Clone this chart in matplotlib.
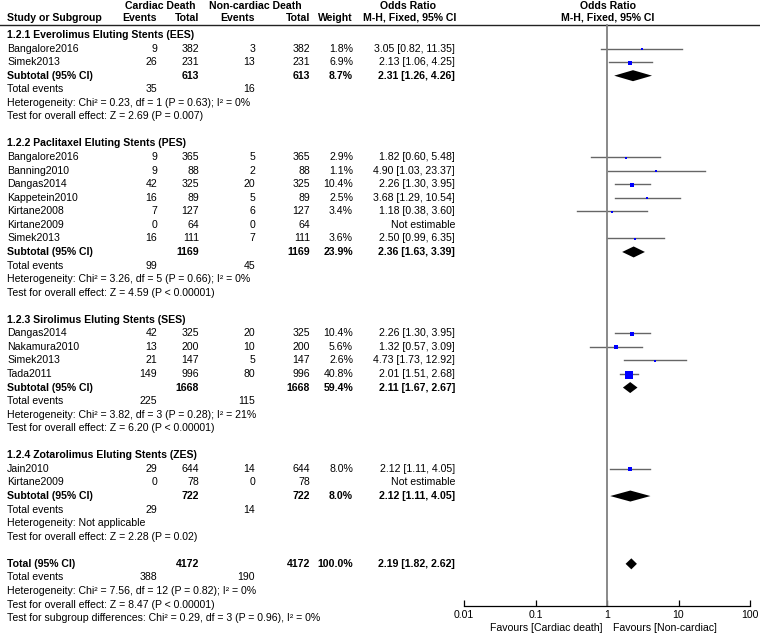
import matplotlib
matplotlib.use("Agg")
import matplotlib.pyplot as plt
import numpy as np

plt.rcParams['font.family'] = ['Liberation Sans', 'DejaVu Sans']
FS = 7.55

# subgroups
group_names = ["1.2.1 Everolimus Eluting Stents (EES)",
               "1.2.2 Paclitaxel Eluting Stents (PES)",
               "1.2.3 Sirolimus Eluting Stents (SES)",
               "1.2.4 Zotarolimus Eluting Stents (ZES)"]
group_studies = [["Bangalore2016", "Simek2013"],
                 ["Bangalore2016", "Banning2010", "Dangas2014", "Kappetein2010",
                  "Kirtane2008", "Kirtane2009", "Simek2013"],
                 ["Dangas2014", "Nakamura2010", "Simek2013", "Tada2011"],
                 ["Jain2010", "Kirtane2009"]]
cd_events = [[9, 26], [9, 9, 42, 16, 7, 0, 16], [42, 13, 21, 149], [29, 0]]
cd_total = [[382, 231], [365, 88, 325, 89, 127, 64, 111], [325, 200, 147, 996], [644, 78]]
nc_events = [[3, 13], [5, 2, 20, 5, 6, 0, 7], [20, 10, 5, 80], [14, 0]]
nc_total = [[382, 231], [365, 88, 325, 89, 127, 64, 111], [325, 200, 147, 996], [644, 78]]
weights = [[1.8, 6.9], [2.9, 1.1, 10.4, 2.5, 3.4, None, 3.6], [10.4, 5.6, 2.6, 40.8], [8.0, None]]
odds = [[3.05, 2.13], [1.82, 4.90, 2.26, 3.68, 1.18, None, 2.50], [2.26, 1.32, 4.73, 2.01], [2.12, None]]
ci_low = [[0.82, 1.06], [0.60, 1.03, 1.30, 1.29, 0.38, None, 0.99], [1.30, 0.57, 1.73, 1.51], [1.11, None]]
ci_high = [[11.35, 4.25], [5.48, 23.37, 3.95, 10.54, 3.60, None, 6.35], [3.95, 3.09, 12.92, 2.68], [4.05, None]]

sub_cd_total = [613, 1169, 1668, 722]
sub_nc_total = [613, 1169, 1668, 722]
sub_weight = [8.7, 23.9, 59.4, 8.0]
sub_or = [2.31, 2.36, 2.11, 2.12]
sub_low = [1.26, 1.63, 1.67, 1.11]
sub_high = [4.26, 3.39, 2.67, 4.05]
sub_cd_events = [35, 99, 225, 29]
sub_nc_events = [16, 45, 115, 14]
sub_het = ["Heterogeneity: Chi² = 0.23, df = 1 (P = 0.63); I² = 0%",
           "Heterogeneity: Chi² = 3.26, df = 5 (P = 0.66); I² = 0%",
           "Heterogeneity: Chi² = 3.82, df = 3 (P = 0.28); I² = 21%",
           "Heterogeneity: Not applicable"]
sub_z = ["Test for overall effect: Z = 2.69 (P = 0.007)",
         "Test for overall effect: Z = 4.59 (P < 0.00001)",
         "Test for overall effect: Z = 6.20 (P < 0.00001)",
         "Test for overall effect: Z = 2.28 (P = 0.02)"]

tot_cd_total, tot_nc_total = 4172, 4172
tot_or, tot_low, tot_high = 2.19, 1.82, 2.62
tot_cd_events, tot_nc_events = 388, 190
tot_lines = ["Heterogeneity: Chi² = 7.56, df = 12 (P = 0.82); I² = 0%",
             "Test for overall effect: Z = 8.47 (P < 0.00001)",
             "Test for subgroup differences: Chi² = 0.29, df = 3 (P = 0.96), I² = 0%"]

axis_ticks = [0.01, 0.1, 1, 10, 100]

# layout (pixels)
W, H = 760, 643
Y0, STEP = 35, 13.56
X_STUDY, X_CDE, X_CDT, X_NCE, X_NCT, X_W, X_OR = 7, 157, 199, 255, 310, 353, 455
Y_AXIS = 606
DIA_H = 5.5
CI_COL = "#666666"

fig = plt.figure(figsize=(W / 100, H / 100), dpi=100)
tax = fig.add_axes([0, 0, 1, 1])
tax.set_xlim(0, W)
tax.set_ylim(H, 0)
tax.axis("off")

fax = fig.add_axes([464 / W, 0, (750 - 464) / W, 1])
fax.set_xscale("log")
fax.set_xlim(0.01, 100)
fax.set_ylim(H, 0)
fax.patch.set_alpha(0)
for s in ["top", "left", "right"]:
    fax.spines[s].set_visible(False)
fax.spines["bottom"].set_position(("data", Y_AXIS))
fax.spines["bottom"].set_linewidth(0.9)
fax.set_yticks([])
fax.set_xticks(axis_ticks)
fax.set_xticklabels(["0.01", "0.1", "1", "10", "100"], fontsize=FS)
fax.xaxis.set_minor_locator(matplotlib.ticker.NullLocator())
fax.tick_params(axis="x", direction="in", length=4, width=0.9, pad=3)


def txt(x, y, s, ha="left", bold=False):
    tax.text(x, y, s, ha=ha, va="center", fontsize=FS,
             fontweight="bold" if bold else "normal", color="black")


def diamond(y, est, lo, hi):
    fax.fill([lo, est, hi, est], [y, y - DIA_H, y, y + DIA_H], color="black", lw=0)


# header
txt(160, 6, "Cardiac Death", ha="center", bold=True)
txt(255, 6, "Non-cardiac Death", ha="center", bold=True)
txt(408, 6, "Odds Ratio", ha="center", bold=True)
txt(608, 6, "Odds Ratio", ha="center", bold=True)
txt(X_STUDY, 18, "Study or Subgroup", bold=True)
txt(X_CDE, 18, "Events", ha="right", bold=True)
txt(X_CDT, 18, "Total", ha="right", bold=True)
txt(X_NCE, 18, "Events", ha="right", bold=True)
txt(X_NCT, 18, "Total", ha="right", bold=True)
txt(X_W, 18, "Weight", ha="right", bold=True)
txt(410, 18, "M-H, Fixed, 95% CI", ha="center", bold=True)
txt(608, 18, "M-H, Fixed, 95% CI", ha="center", bold=True)
tax.plot([0, W], [24.5, 24.5], color="#222222", lw=1)

row = 0
for g in range(len(group_names)):
    y = Y0 + row * STEP
    txt(X_STUDY, y, group_names[g], bold=True)
    row += 1
    for i, name in enumerate(group_studies[g]):
        y = Y0 + row * STEP
        txt(X_STUDY, y, name)
        txt(X_CDE, y, str(cd_events[g][i]), ha="right")
        txt(X_CDT, y, str(cd_total[g][i]), ha="right")
        txt(X_NCE, y, str(nc_events[g][i]), ha="right")
        txt(X_NCT, y, str(nc_total[g][i]), ha="right")
        if odds[g][i] is None:
            txt(X_OR, y, "Not estimable", ha="right")
        else:
            w = weights[g][i]
            txt(X_W, y, f"{w:.1f}%", ha="right")
            txt(X_OR, y, f"{odds[g][i]:.2f} [{ci_low[g][i]:.2f}, {ci_high[g][i]:.2f}]", ha="right")
            fax.plot([ci_low[g][i], ci_high[g][i]], [y, y], color=CI_COL, lw=1)
            fax.plot([odds[g][i]], [y + 0.5], marker="s", color="#0000ff", mew=0,
                     markersize=max(1.9, np.sqrt(w) * 1.0))
        row += 1
    y = Y0 + row * STEP
    txt(X_STUDY, y, "Subtotal (95% CI)", bold=True)
    txt(X_CDT, y, str(sub_cd_total[g]), ha="right", bold=True)
    txt(X_NCT, y, str(sub_nc_total[g]), ha="right", bold=True)
    txt(X_W, y, f"{sub_weight[g]:.1f}%", ha="right", bold=True)
    txt(X_OR, y, f"{sub_or[g]:.2f} [{sub_low[g]:.2f}, {sub_high[g]:.2f}]", ha="right", bold=True)
    diamond(y, sub_or[g], sub_low[g], sub_high[g])
    row += 1
    y = Y0 + row * STEP
    txt(X_STUDY, y, "Total events")
    txt(X_CDE, y, str(sub_cd_events[g]), ha="right")
    txt(X_NCE, y, str(sub_nc_events[g]), ha="right")
    row += 1
    txt(X_STUDY, Y0 + row * STEP, sub_het[g])
    row += 1
    txt(X_STUDY, Y0 + row * STEP, sub_z[g])
    row += 2

y = Y0 + row * STEP
txt(X_STUDY, y, "Total (95% CI)", bold=True)
txt(X_CDT, y, str(tot_cd_total), ha="right", bold=True)
txt(X_NCT, y, str(tot_nc_total), ha="right", bold=True)
txt(X_W, y, "100.0%", ha="right", bold=True)
txt(X_OR, y, f"{tot_or:.2f} [{tot_low:.2f}, {tot_high:.2f}]", ha="right", bold=True)
diamond(y, tot_or, tot_low, tot_high)
row += 1
y = Y0 + row * STEP
txt(X_STUDY, y, "Total events")
txt(X_CDE, y, str(tot_cd_events), ha="right")
txt(X_NCE, y, str(tot_nc_events), ha="right")
row += 1
for line in tot_lines:
    txt(X_STUDY, Y0 + row * STEP, line)
    row += 1

# line of no effect
fax.plot([1, 1], [24.5, Y_AXIS], color="#808080", lw=1.3)

txt(602, 628, "Favours [Cardiac death]", ha="right")
txt(613, 628, "Favours [Non-cardiac]")

fig.savefig("out.png", dpi=100)
